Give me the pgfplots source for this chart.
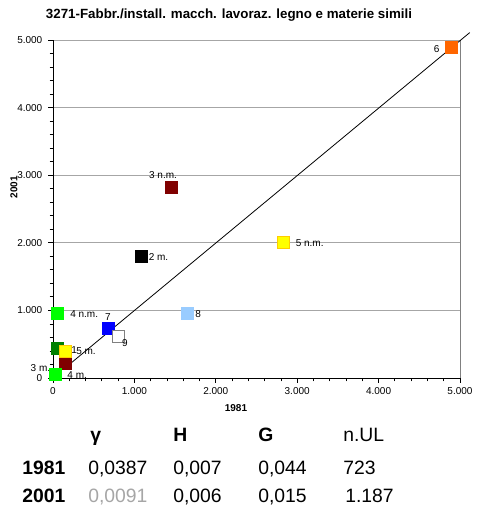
\documentclass[border=0pt]{standalone}
\usepackage{pgfplots}
\pgfplotsset{compat=1.18}
\usepackage{fontspec}
\setmainfont{Liberation Sans}
\definecolor{cOrange}{HTML}{FF6600}
\definecolor{cDarkRed}{HTML}{800000}
\definecolor{cYellow}{HTML}{FFFF00}
\definecolor{cGold}{HTML}{FFCC00}
\definecolor{cGreen}{HTML}{00FF00}
\definecolor{cLightBlue}{HTML}{99CCFF}
\definecolor{cBlue}{HTML}{0000FF}
\definecolor{cDarkGreen}{HTML}{008000}
\definecolor{cGrid}{HTML}{A6A6A6}
\definecolor{cBorder}{HTML}{808080}
\newcommand{\pnt}[5]{\addplot[only marks, mark=square*, mark size=4.5pt,
  mark options={fill=#1, draw=#2, line width=0.6pt},
  nodes near coords={#3},
  every node near coord/.append style={inner sep=0pt, font=\fontsize{7.5}{9}\selectfont, #4}]
  coordinates {#5};}
\begin{document}
\begin{tikzpicture}[x=0.75pt,y=0.75pt]
\useasboundingbox (0,0) rectangle (477,512);
\begin{axis}[
  at={(39.75pt,100.5pt)}, anchor=south west,
  scale only axis, width=305.25pt, height=253.5pt,
  xmin=0, xmax=5000, ymin=0, ymax=5000,
  axis lines=left, axis line style={black,-},
  clip=false,
  xtick={0,1000,2000,3000,4000,5000},
  xticklabels={0,1.000,2.000,3.000,4.000,5.000},
  ytick={0,1000,2000,3000,4000,5000},
  yticklabels={0,1.000,2.000,3.000,4.000,5.000},
  minor tick num=4,
  tick align=outside,
  major tick length=3.5pt, minor tick length=2.5pt,
  tick style={black, line width=0.6pt},
  ymajorgrids, grid style={cGrid, line width=0.6pt},
  ticklabel style={font=\fontsize{7.5}{9}\selectfont},
  yticklabel style={xshift=-1pt},
]
\draw[cBorder, line width=0.6pt] (rel axis cs:1,0) -- (rel axis cs:1,1);
\addplot[black, line width=0.6pt] coordinates {(200,200) (5120,5110)};
\pnt{cDarkGreen}{cDarkGreen}{1}{anchor=west, xshift=9.75pt, yshift=-1.5pt}{(60,445)}
\pnt{cDarkRed}{cDarkRed}{3 m.}{anchor=east, xshift=-11pt, yshift=-4pt}{(150,220)}
\pnt{cYellow}{cGold}{5 m.}{anchor=west, xshift=8pt}{(150,400)}
\pnt{cGreen}{cGreen}{4 m.}{anchor=west, xshift=9pt, yshift=-0.5pt}{(25,60)}
\pnt{black}{black}{2 m.}{anchor=west, xshift=5pt, yshift=-0.75pt}{(1090,1805)}
\pnt{cDarkRed}{cDarkRed}{3 n.m.}{anchor=center, xshift=-6pt, yshift=9pt}{(1450,2825)}
\pnt{cGreen}{cGreen}{4 n.m.}{anchor=west, xshift=9pt}{(60,950)}
\pnt{cYellow}{cGold}{5 n.m.}{anchor=west, xshift=9pt}{(2830,2000)}
\pnt{cOrange}{cOrange}{6}{anchor=east, xshift=-9pt, yshift=-1.5pt}{(4900,4895)}
\pnt{cBlue}{cBlue}{7}{anchor=center, yshift=8pt}{(675,740)}
\pnt{cLightBlue}{cLightBlue}{8}{anchor=west, xshift=6pt}{(1645,950)}
\pnt{white}{cBorder}{9}{anchor=center, xshift=5pt, yshift=-5pt}{(800,620)}
\end{axis}
% titles
\node[font=\bfseries\fontsize{10}{12}\selectfont] at (229,497) {3271-Fabbr./install. macch. lavoraz. legno e materie simili};
\node[font=\bfseries\fontsize{7.5}{9}\selectfont] at (236,104) {1981};
\node[font=\bfseries\fontsize{7.5}{9}\selectfont, rotate=90] at (14,325) {2001};
% table
\begin{scope}[every node/.style={font=\fontsize{14.5}{17}\selectfont, anchor=base west, inner sep=0pt}]
\node at (90,70) {\textbf{γ}};
\node at (173,70) {\textbf{H}};
\node at (258,70) {\textbf{G}};
\node at (343,70) {n.UL};
\node at (22,37) {\textbf{1981}};
\node at (88,37) {0,0387};
\node at (173,37) {0,007};
\node at (258,37) {0,044};
\node at (343,37) {723};
\node at (22,10) {\textbf{2001}};
\node[text=gray!70] at (88,10) {0,0091};
\node at (173,10) {0,006};
\node at (258,10) {0,015};
\node at (345,10) {1.187};
\end{scope}
\end{tikzpicture}
\end{document}
